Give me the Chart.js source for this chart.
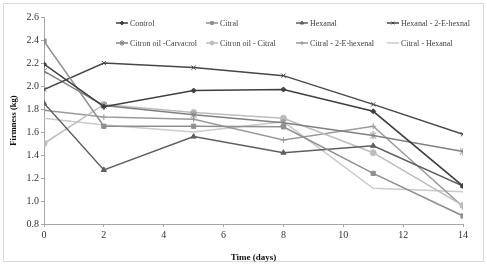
<!DOCTYPE html>
<html>
<head>
<meta charset="utf-8">
<script src="https://cdn.jsdelivr.net/npm/chart.js@4.4.1/dist/chart.umd.min.js"></script>
<style>
    body { margin: 0; background: #fff; }
    #wrap { position: relative; width: 487px; height: 267px; }
    #frame { position: absolute; left: 3px; top: 3px; width: 479px; height: 257px; border: 1px solid #d9d9d9; }
    #chart { position: absolute; left: 0; top: 0; }
</style>
</head>
<body>
<div id="wrap">
    <div id="frame"></div>
    <canvas id="chart" width="487" height="267"></canvas>
</div>
<script>
// ═══════════════ DATA ═══════════════

const days = [0, 2, 5, 8, 11, 14];

const control         = [2.19, 1.82, 1.96, 1.97, 1.78, 1.13];
const citral          = [2.39, 1.65, 1.65, 1.645, 1.24, 0.87];
const hexanal         = [1.85, 1.27, 1.56, 1.42, 1.48, 1.13];
const hexanal2E       = [1.97, 2.20, 2.16, 2.09, 1.84, 1.58];
const citronCarvacrol = [2.13, 1.83, 1.75, 1.68, 1.57, 1.43];
const citronCitral    = [1.50, 1.84, 1.77, 1.72, 1.42, 0.96];
const citral2E        = [1.79, 1.73, 1.71, 1.53, 1.65, 0.95];
const citralHexanal   = [1.72, 1.66, 1.60, 1.69, 1.11, 1.08];

const yTicks = { min: 0.8, max: 2.6, step: 0.2 };
const xTicks = { min: 0, max: 14, step: 2 };

// ═══════════════ HELPERS ═══════════════

const SERIF = '"Liberation Serif", "DejaVu Serif", serif';

function toPoints(values) {
    return values.map((v, i) => ({ x: days[i], y: v }));
}

// star marker: an x with a vertical stroke through it
function starCanvas(color, size) {
    const c = document.createElement('canvas');
    c.width = size; c.height = size;
    const g = c.getContext('2d');
    const m = size - 1;
    g.strokeStyle = color;
    g.lineWidth = 1;
    g.beginPath();
    g.moveTo(1, 1); g.lineTo(m, m);
    g.moveTo(m, 1); g.lineTo(1, m);
    g.moveTo(size / 2, 0); g.lineTo(size / 2, size);
    g.stroke();
    return c;
}

const series = [
    { label: 'Control', data: control, color: '#3f3f3f', point: 'rectRot', r: 2.5 },
    { label: 'Citral', data: citral, color: '#8f8f8f', point: 'rect', r: 3 },
    { label: 'Hexanal', data: hexanal, color: '#5e5e5e', point: 'triangle', r: 3 },
    { label: 'Hexanal - 2-E-hexnal', data: hexanal2E, color: '#474747', point: 'crossRot', r: 3 },
    { label: 'Citron oil -Carvacrol', data: citronCarvacrol, color: '#808080', point: 'star', r: 3 },
    { label: 'Citron oil - Citral', data: citronCitral, color: '#bdbdbd', point: 'circle', r: 3 },
    { label: 'Citral - 2-E-hexenal', data: citral2E, color: '#9a9a9a', point: 'cross', r: 3 },
    { label: 'Citral - Hexanal', data: citralHexanal, color: '#cbcbcb', point: false, r: 0 }
];

const datasets = series.map(s => ({
    label: s.label,
    data: toPoints(s.data),
    borderColor: s.color,
    backgroundColor: s.color,
    borderWidth: 1.5,
    pointStyle: s.point === 'star' ? starCanvas(s.color, 8) : s.point,
    legendStyle: s.point === 'star' ? starCanvas(s.color, 6) : s.point,
    pointRadius: s.r,
    pointBorderWidth: 1,
    tension: 0,
    fill: false
}));

// ═══════════════ LEGEND (inside plot, 4 columns x 2 rows) ═══════════════

const legendCols = [116, 206, 296, 387];
const legendRows = [23, 43];

const insideLegend = {
    id: 'insideLegend',
    afterDraw(chart) {
        const ctx = chart.ctx;
        ctx.save();
        ctx.font = '8px ' + SERIF;
        ctx.textBaseline = 'middle';
        chart.data.datasets.forEach((ds, i) => {
            const x = legendCols[i % 4];
            const y = legendRows[Math.floor(i / 4)];
            ctx.strokeStyle = ds.borderColor;
            ctx.fillStyle = ds.backgroundColor;
            ctx.lineWidth = 1.5;
            ctx.beginPath();
            ctx.moveTo(x, y);
            ctx.lineTo(x + 12, y);
            ctx.stroke();
            if (ds.legendStyle) {
                ctx.lineWidth = 1;
                Chart.helpers.drawPoint(ctx, {
                    pointStyle: ds.legendStyle,
                    radius: 2,
                    borderWidth: 1
                }, x + 6, y);
            }
            ctx.fillStyle = '#404040';
            ctx.fillText(ds.label, x + 14, y + 0.5);
        });
        ctx.restore();
    }
};

// ═══════════════ CHART ═══════════════

const ctx = document.getElementById('chart').getContext('2d');

new Chart(ctx, {
    type: 'line',
    data: { datasets },
    options: {
        responsive: false,
        animation: false,
        layout: { padding: { left: 0, right: 24, top: 17, bottom: 0 } },
        plugins: {
            legend: { display: false },
            tooltip: { enabled: false }
        },
        scales: {
            x: {
                type: 'linear',
                min: xTicks.min,
                max: xTicks.max,
                ticks: {
                    stepSize: xTicks.step,
                    color: '#333',
                    font: { family: SERIF, size: 10 },
                    padding: 2,
                    maxRotation: 0
                },
                grid: { drawOnChartArea: false, tickLength: 3, color: '#a6a6a6' },
                border: { color: '#a6a6a6' },
                title: {
                    display: true,
                    text: 'Time (days)',
                    color: '#111',
                    font: { family: SERIF, size: 9, weight: 'bold' },
                    padding: { top: 5 }
                },
                afterFit(scale) { scale.height = 43; }
            },
            y: {
                min: yTicks.min,
                max: yTicks.max,
                ticks: {
                    stepSize: yTicks.step,
                    color: '#333',
                    font: { family: SERIF, size: 10 },
                    padding: 2,
                    callback: v => v.toFixed(1)
                },
                grid: { drawOnChartArea: false, tickLength: 3, color: '#a6a6a6' },
                border: { color: '#a6a6a6' },
                title: {
                    display: true,
                    text: 'Firmness (kg)',
                    color: '#111',
                    font: { family: SERIF, size: 8.5, weight: 'bold' },
                    padding: { top: 9, bottom: 0 }
                },
                afterFit(scale) { scale.width = 44; }
            }
        }
    },
    plugins: [insideLegend]
});
</script>
</body>
</html>
